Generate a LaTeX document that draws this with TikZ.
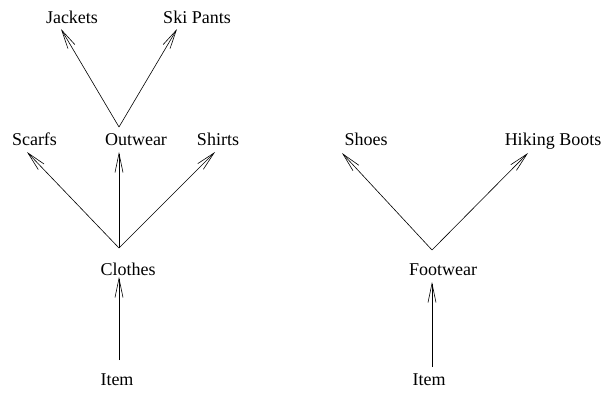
\documentclass[tikz,border=0pt]{standalone}
\usepackage{fontspec}
\setmainfont{Liberation Serif}
\usetikzlibrary{arrows.meta}

\begin{document}
\begin{tikzpicture}[x=1pt,y=1pt,>={Straight Barb[length=19pt,width=8pt]},
    every node/.style={anchor=base,inner sep=0pt,font=\fontsize{18}{20}\selectfont},
    every path/.style={line width=0.6pt}]
  \useasboundingbox (0,0) rectangle (604,392);

  % clothes tree
    \draw (72,369) node (jackets) {Jackets};
    \draw (197,369) node (skipants) {Ski Pants};
      \draw (34.5,247) node (scarfs) {Scarfs};
      \draw (136,247) node (outwear) {Outwear};
      \draw (218,247) node (shirts) {Shirts};
   \draw (128,117) node (clothes) {Clothes};
   \draw (117,7) node (itemA) {Item};

  % footwear tree
      \draw (366,247) node (shoes) {Shoes};
      \draw (553,247) node (boots) {Hiking Boots};
   \draw (443,117) node (footwear) {Footwear};
   \draw (429,7) node (itemB) {Item};

  % arrow ends
    \coordinate (outwear out) at (119,265);
    \coordinate (jackets in) at (61,363);
    \coordinate (skipants in) at (177,363);
    \coordinate (clothes out) at (119,144);
    \coordinate (scarfs in) at (27,240);
    \coordinate (outwear in) at (119,240);
    \coordinate (shirts in) at (215,240);
    \coordinate (itemA out) at (119,32);
    \coordinate (clothes in) at (119,115);
    \coordinate (footwear out) at (432,142);
    \coordinate (shoes in) at (342,239);
    \coordinate (boots in) at (528,239);
    \coordinate (itemB out) at (432,25);
    \coordinate (footwear in) at (432,110);

     \path[->] (outwear out) edge (jackets in);
     \path[->] (outwear out) edge (skipants in);
     \path[->] (clothes out) edge (scarfs in);
     \path[->] (clothes out) edge (outwear in);
     \path[->] (clothes out) edge (shirts in);
     \path[->] (itemA out) edge (clothes in);
     \path[->] (footwear out) edge (shoes in);
     \path[->] (footwear out) edge (boots in);
     \path[->] (itemB out) edge (footwear in);

\end{tikzpicture}
\end{document}
